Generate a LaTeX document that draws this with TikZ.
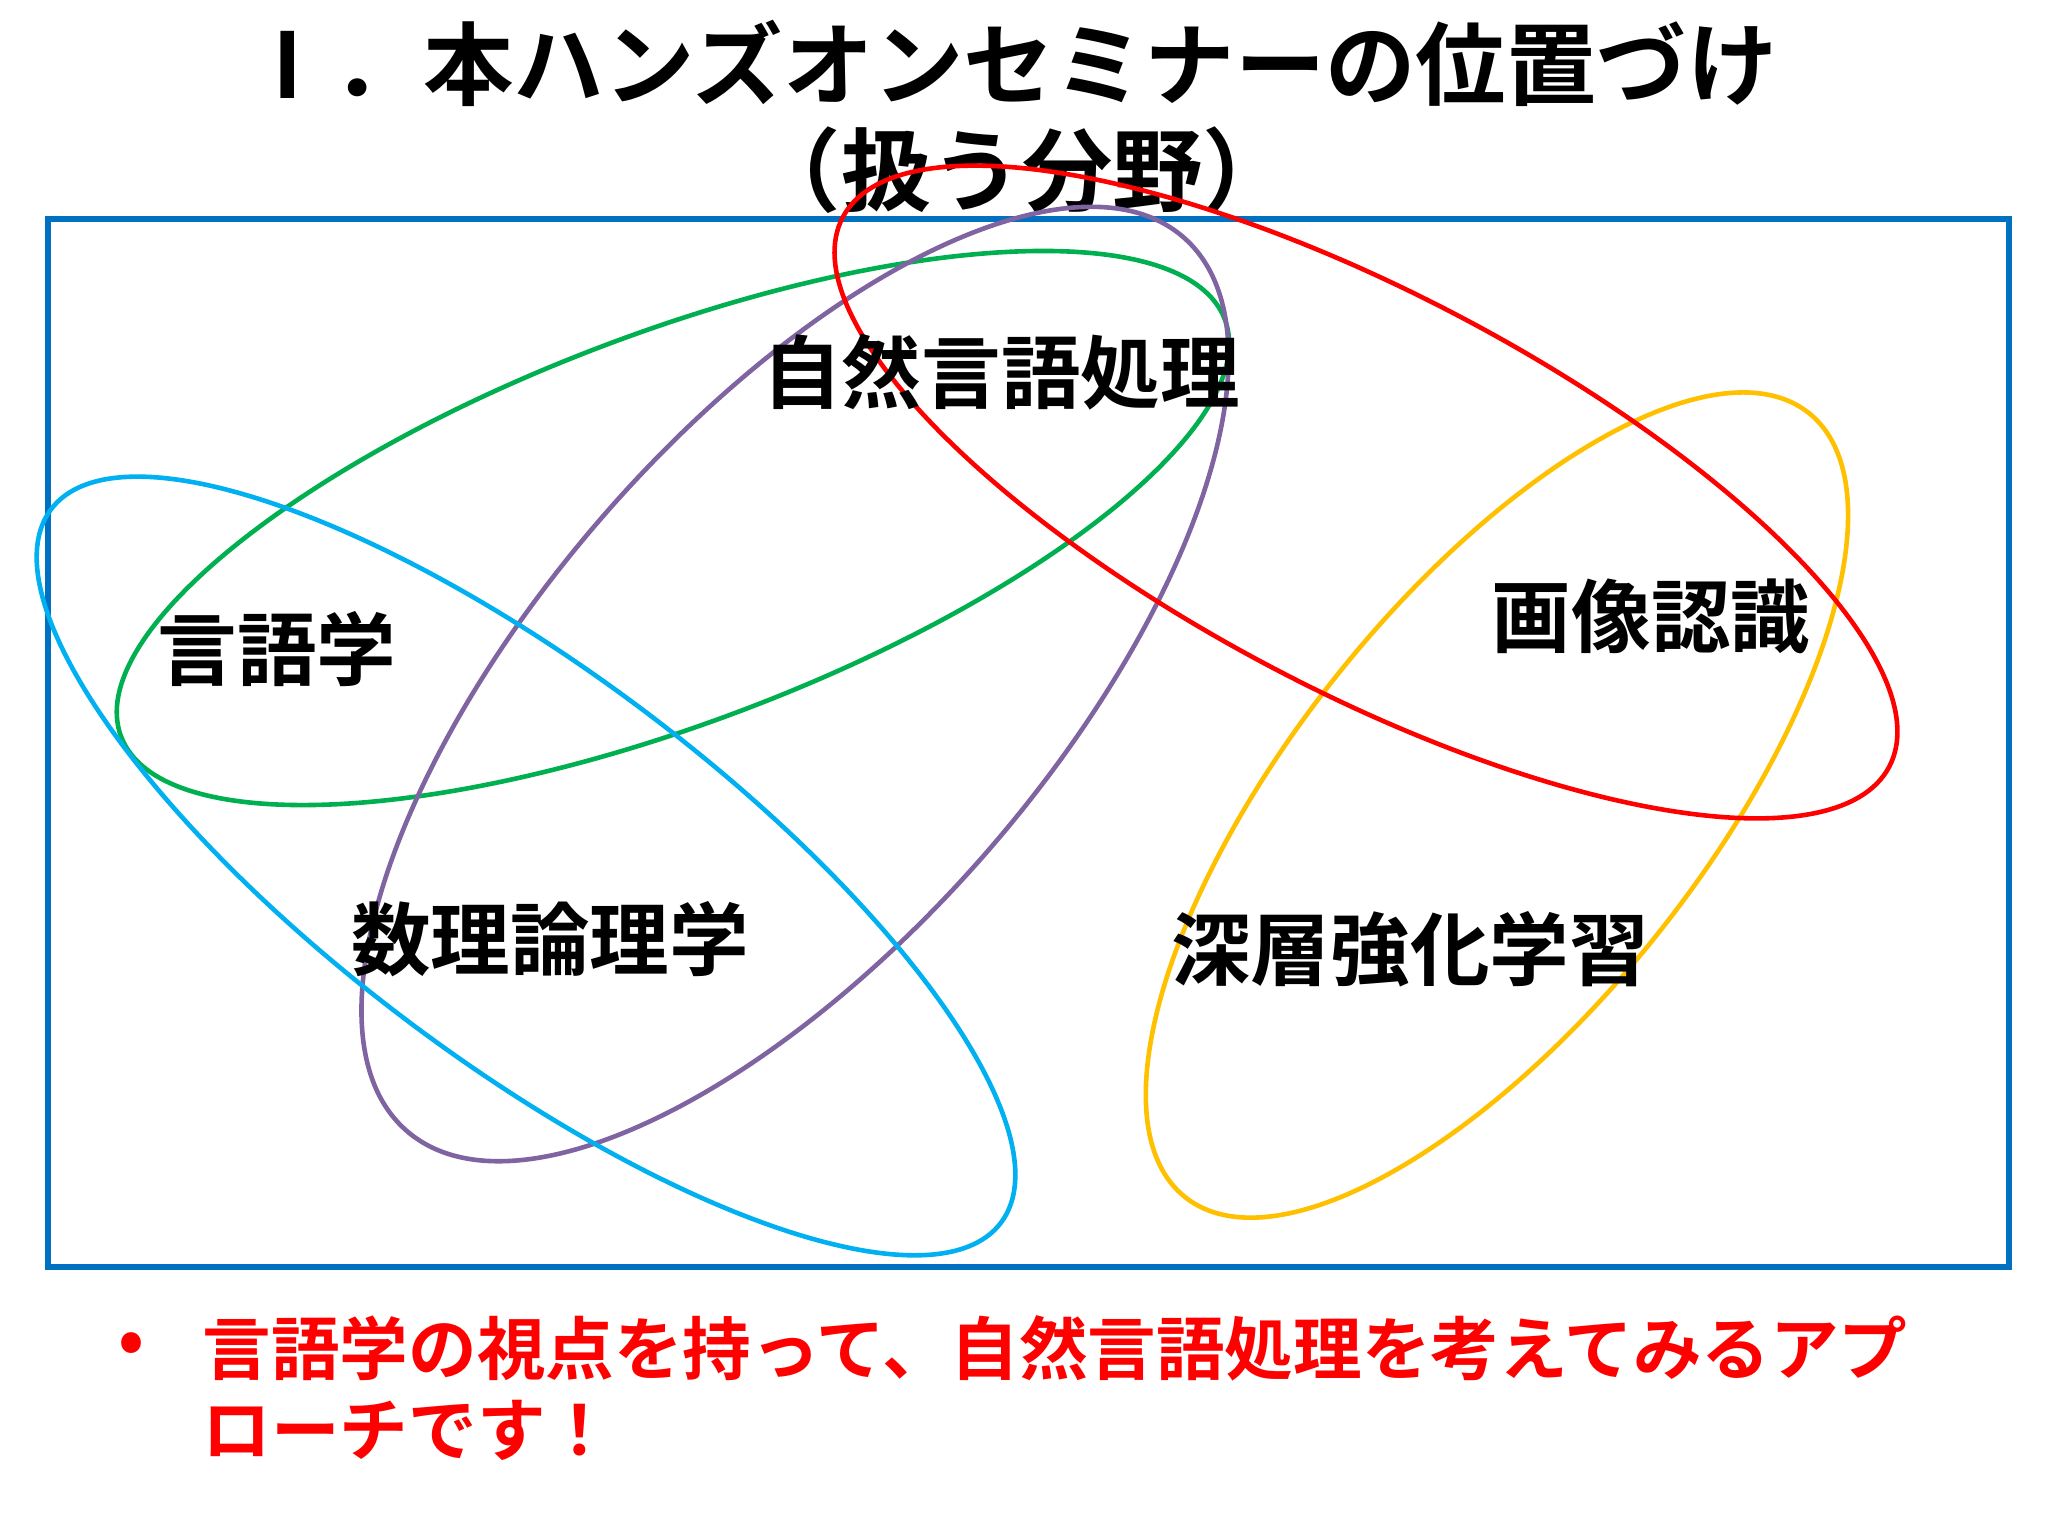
\documentclass[tikz,border=0pt]{standalone}
\usepackage{fontspec}
\newfontfamily\jp{Noto Sans CJK JP}[BoldFont={Noto Sans CJK JP Bold}]
\definecolor{cgreen}{HTML}{00B050}
\definecolor{cpurple}{HTML}{8064A2}
\definecolor{cred}{HTML}{FF0000}
\definecolor{ccyan}{HTML}{00B0F0}
\definecolor{cyellow}{HTML}{FFC000}
\definecolor{cblue}{HTML}{0070C0}
\begin{document}
\begin{tikzpicture}[x=0.25pt,y=-0.25pt,
  ring/.style={line width=1.15pt},
  lbl/.style={font=\jp\bfseries\fontsize{19.9}{22}\selectfont, inner sep=0pt},
  ttl/.style={font=\jp\bfseries\fontsize{22.6}{26}\selectfont, inner sep=0pt},
  note/.style={font=\jp\bfseries\fontsize{17.15}{20}\selectfont, text=cred, inner sep=0pt, anchor=west}]
\useasboundingbox (0,0) rectangle (2048,1536);
\fill[white] (0,0) rectangle (2048,1536);
% title
\node[ttl] (t1) at (1010,63) {Ⅰ．本ハンズオンセミナーの位置づけ};
\node[ttl] (t2) at (1022,170) {（扱う分野）};
% frame
\draw[cblue, line width=1.3pt] (48,219) rectangle (2009,1267);
% ellipses
\coordinate (cg) at (673,528);
\coordinate (cp) at (795,684);
\coordinate (cr) at (1366,492);
\coordinate (cc) at (526,866);
\coordinate (cy) at (1497,805);
\draw[ring, cgreen, rotate around={20.7:(cg)}] (cg) ellipse [x radius=590, y radius=195];
\draw[ring, cpurple, rotate around={49:(cp)}] (cp) ellipse [x radius=592, y radius=255];
\draw[ring, ccyan, rotate around={-36.9:(cc)}] (cc) ellipse [x radius=594, y radius=195];
\draw[ring, cyellow, rotate around={51.5:(cy)}] (cy) ellipse [x radius=501, y radius=206];
\draw[ring, cred, rotate around={-27.7:(cr)}] (cr) ellipse [x radius=591, y radius=199];
% labels
\node[lbl] (nlp) at (1001,372) {自然言語処理};
\node[lbl] (ling) at (277,649) {言語学};
\node[lbl] (logic) at (550,939) {数理論理学};
\node[lbl] (img) at (1651,616) {画像認識};
\node[lbl] (drl) at (1410,949) {深層強化学習};
% note
\node[note] (bul) at (118,1348) {•};
\node[note] (n1) at (202,1348) {言語学の視点を持って、自然言語処理を考えてみるアプ};
\node[note] (n2) at (202,1430) {ローチです！};
\end{tikzpicture}
\end{document}
